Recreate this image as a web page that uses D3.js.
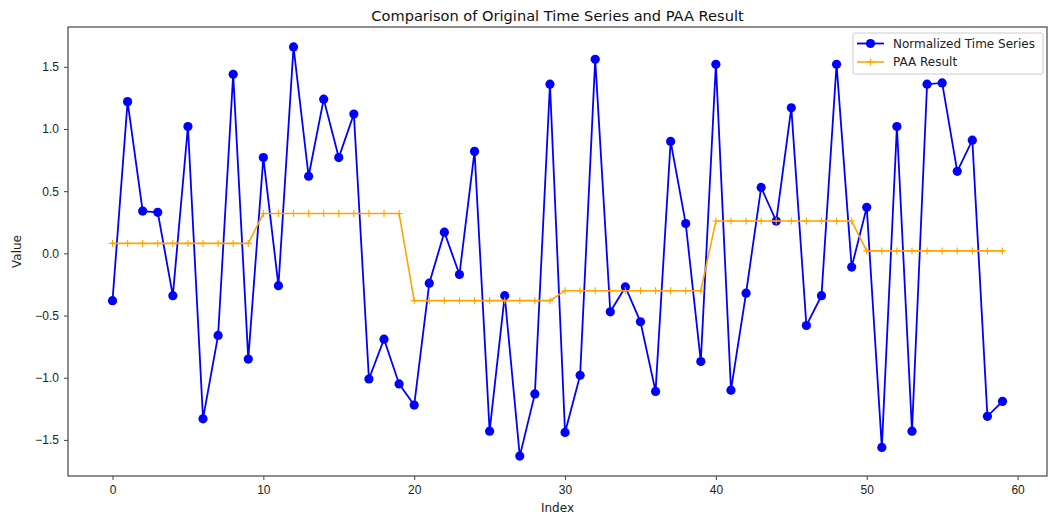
<!DOCTYPE html>
<html>
<head>
<meta charset="utf-8">
<script src="https://cdn.jsdelivr.net/npm/d3@7"></script>
<style>
  body { margin: 0; background: #fff; }
  svg { font-family: "DejaVu Sans", sans-serif; }
  .axis path, .axis line { stroke: #444; }
  .axis text { fill: #222; font-size: 12px; }
</style>
</head>
<body>
<div class="chart"></div>
<script>
/* values */
var indexes = d3.range(60);
var normalized = [
  -0.38, 1.22, 0.34, 0.33, -0.34, 1.02, -1.33, -0.66, 1.44, -0.85,
  0.77, -0.26, 1.66, 0.62, 1.24, 0.77, 1.12, -1.01, -0.69, -1.05,
  -1.22, -0.24, 0.17, -0.17, 0.82, -1.43, -0.34, -1.63, -1.13, 1.36,
  -1.44, -0.98, 1.56, -0.47, -0.27, -0.55, -1.11, 0.90, 0.24, -0.87,
  1.52, -1.10, -0.32, 0.53, 0.26, 1.17, -0.58, -0.34, 1.52, -0.11,
  0.37, -1.56, 1.02, -1.43, 1.36, 1.37, 0.66, 0.91, -1.31, -1.19
];
var paa = [
  0.08, 0.08, 0.08, 0.08, 0.08, 0.08, 0.08, 0.08, 0.08, 0.08,
  0.32, 0.32, 0.32, 0.32, 0.32, 0.32, 0.32, 0.32, 0.32, 0.32,
  -0.38, -0.38, -0.38, -0.38, -0.38, -0.38, -0.38, -0.38, -0.38, -0.38,
  -0.30, -0.30, -0.30, -0.30, -0.30, -0.30, -0.30, -0.30, -0.30, -0.30,
  0.26, 0.26, 0.26, 0.26, 0.26, 0.26, 0.26, 0.26, 0.26, 0.26,
  0.02, 0.02, 0.02, 0.02, 0.02, 0.02, 0.02, 0.02, 0.02, 0.02
];
var xTicks = [0, 10, 20, 30, 40, 50, 60];
var yTicks = [-1.5, -1.0, -0.5, 0.0, 0.5, 1.0, 1.5];
var seriesNames = ["Normalized Time Series", "PAA Result"];

var W = 1049, H = 515;
var margin = { top: 27, right: 2, bottom: 39, left: 68 };
var width = W - margin.left - margin.right;
var height = H - margin.top - margin.bottom;

var xScale = d3.scaleLinear().domain([-2.95, 61.95]).range([0, width]);
var yScale = d3.scaleLinear().domain([-1.79, 1.82]).range([height, 0]);

var svg = d3.select(".chart").append("svg")
    .attr("width", W)
    .attr("height", H);

var g = svg.append("g")
    .attr("transform", "translate(" + margin.left + "," + margin.top + ")");

// title
svg.append("text")
    .attr("x", margin.left + width / 2)
    .attr("y", 21)
    .attr("text-anchor", "middle")
    .attr("font-size", "14.6px")
    .attr("fill", "#111")
    .text("Comparison of Original Time Series and PAA Result");

// axes
g.append("g")
    .attr("class", "axis")
    .attr("transform", "translate(0," + height + ")")
    .call(d3.axisBottom(xScale).tickValues(xTicks).tickSize(4).tickPadding(5).tickFormat(d3.format("d")))
    .call(function(a) { a.select(".domain").remove(); });

g.append("g")
    .attr("class", "axis")
    .call(d3.axisLeft(yScale).tickValues(yTicks).tickSize(4).tickPadding(5)
        .tickFormat(function(d) { return d3.format(".1f")(d).replace("-", "\u2212"); }))
    .call(function(a) { a.select(".domain").remove(); });

// frame
g.append("rect")
    .attr("width", width)
    .attr("height", height)
    .attr("fill", "none")
    .attr("stroke", "#444")
    .attr("stroke-width", 1.2);

// axis labels
svg.append("text")
    .attr("x", margin.left + width / 2)
    .attr("y", 512)
    .attr("text-anchor", "middle")
    .attr("font-size", "12px")
    .attr("fill", "#222")
    .text("Index");

svg.append("text")
    .attr("transform", "translate(21," + (margin.top + height / 2) + ") rotate(-90)")
    .attr("text-anchor", "middle")
    .attr("font-size", "12px")
    .attr("fill", "#222")
    .text("Value");

var line = d3.line()
    .x(function(d, i) { return xScale(indexes[i]); })
    .y(function(d) { return yScale(d); });

// original series
g.append("path")
    .datum(normalized)
    .attr("fill", "none")
    .attr("stroke", "#0000ff")
    .attr("stroke-width", 1.8)
    .attr("d", line);

g.selectAll(".dot")
    .data(normalized)
    .enter().append("circle")
    .attr("class", "dot")
    .attr("cx", function(d, i) { return xScale(indexes[i]); })
    .attr("cy", function(d) { return yScale(d); })
    .attr("r", 4.6)
    .attr("fill", "#0000ff");

// PAA
g.append("path")
    .datum(paa)
    .attr("fill", "none")
    .attr("stroke", "#ffa500")
    .attr("stroke-width", 1.6)
    .attr("d", line);

g.selectAll(".plus")
    .data(paa)
    .enter().append("path")
    .attr("class", "plus")
    .attr("transform", function(d, i) {
        return "translate(" + xScale(indexes[i]) + "," + yScale(d) + ")";
    })
    .attr("d", "M-3.5,0H3.5M0,-3.5V3.5")
    .attr("stroke", "#ffa500")
    .attr("stroke-width", 1.1);

// legend
var lg = svg.append("g").attr("transform", "translate(853,33)");
lg.append("rect")
    .attr("width", 190)
    .attr("height", 41)
    .attr("rx", 2)
    .attr("fill", "#fff")
    .attr("fill-opacity", 0.8)
    .attr("stroke", "#ccc");

lg.append("line").attr("x1", 4).attr("x2", 31).attr("y1", 10.5).attr("y2", 10.5)
    .attr("stroke", "#0000ff").attr("stroke-width", 1.8);
lg.append("circle").attr("cx", 17.5).attr("cy", 10.5).attr("r", 4.6).attr("fill", "#0000ff");

lg.append("line").attr("x1", 4).attr("x2", 31).attr("y1", 29).attr("y2", 29)
    .attr("stroke", "#ffa500").attr("stroke-width", 1.6);
lg.append("path").attr("transform", "translate(17.5,29)")
    .attr("d", "M-3.5,0H3.5M0,-3.5V3.5")
    .attr("stroke", "#ffa500").attr("stroke-width", 1.1);

lg.selectAll(".ltext")
    .data(seriesNames)
    .enter().append("text")
    .attr("class", "ltext")
    .attr("x", 40)
    .attr("y", function(d, i) { return 10.5 + i * 18.5; })
    .attr("dy", "0.35em")
    .attr("font-size", "12px")
    .attr("fill", "#222")
    .text(function(d) { return d; });
</script>
</body>
</html>
